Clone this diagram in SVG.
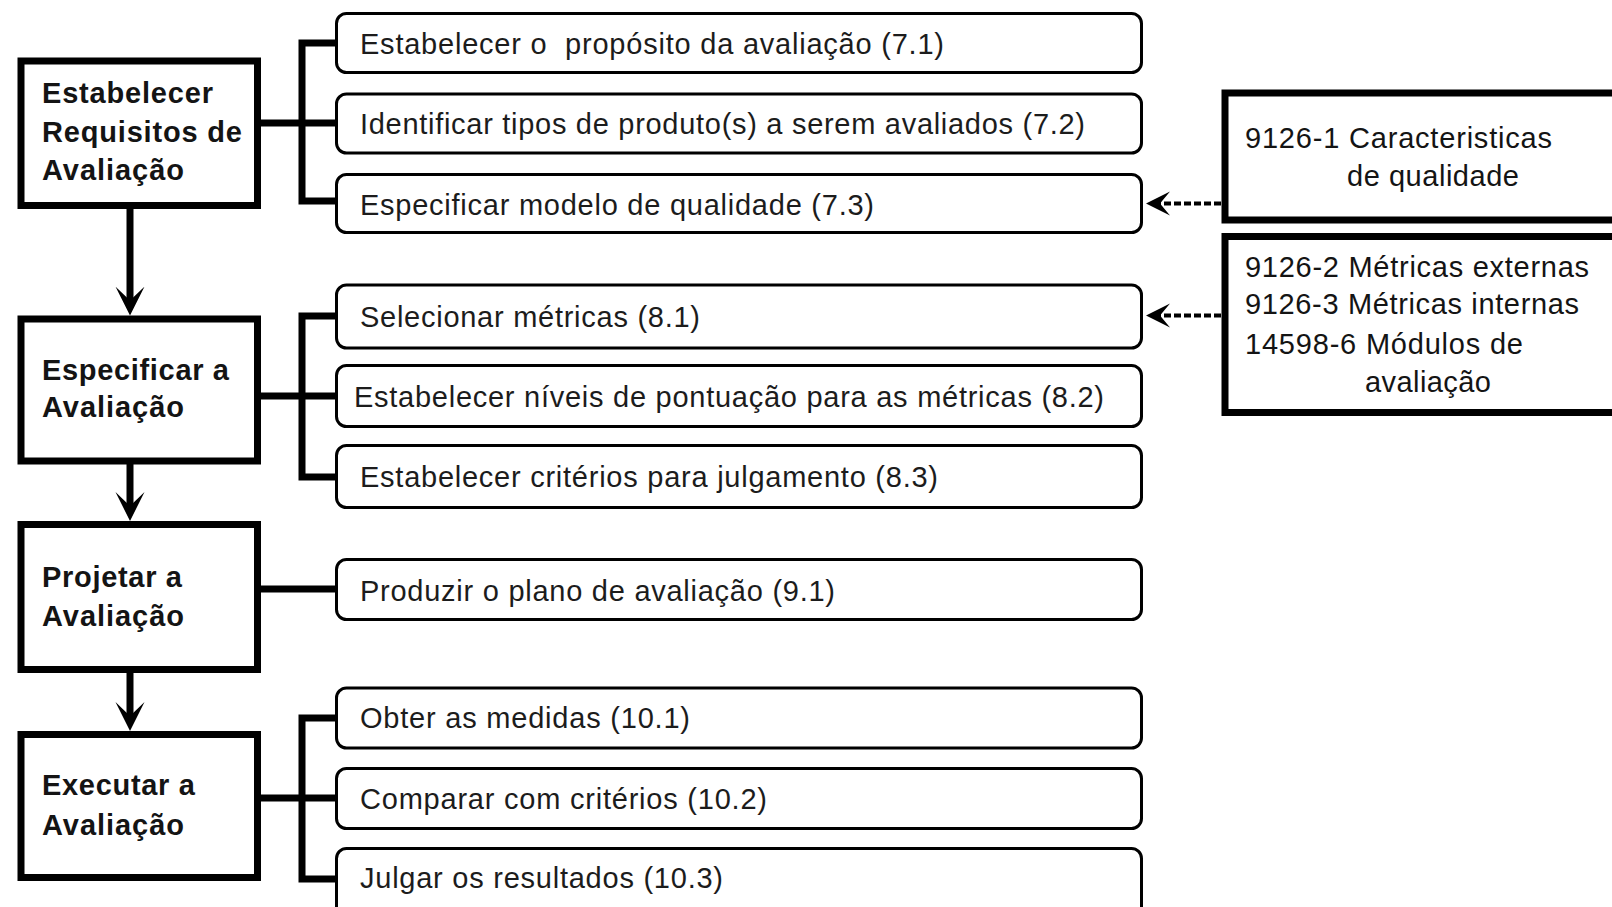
<svg xmlns="http://www.w3.org/2000/svg" width="1612" height="907" viewBox="0 0 1612 907">
<style>
text{font-family:"Liberation Sans",Arial,sans-serif;fill:#141414}
.step rect{fill:#fff;stroke:#000;stroke-width:7}
.step text{font-size:29px;font-weight:bold}
.task rect{fill:#fff;stroke:#000;stroke-width:3}
.task text{font-size:29px;fill:#1c1c1c}
.ref rect{fill:#fff;stroke:#000;stroke-width:7}
.ref text{font-size:29px}
.br{fill:none;stroke:#000;stroke-width:7;stroke-linejoin:miter}
.flow{stroke:#000;stroke-width:7;marker-end:url(#ah)}
.dash{stroke:#000;stroke-width:4;stroke-dasharray:7 3;marker-end:url(#dh)}
</style>
<defs>
<marker id="ah" markerUnits="userSpaceOnUse" viewBox="0 -15 30 30" markerWidth="30" markerHeight="30" refX="21" refY="0" orient="auto"><path d="M0,-14.5 L29,0 L0,14.5 L14,0 Z" fill="#000"/></marker>
<marker id="dh" markerUnits="userSpaceOnUse" viewBox="0 -13 26 26" markerWidth="26" markerHeight="26" refX="16" refY="0" orient="auto"><path d="M0,-12 L24,0 L0,12 L10,0 Z" fill="#000"/></marker>
</defs>
<rect width="1612" height="907" fill="#fff"/>

<g id="connectors">
<path class="br" d="M335,43 H302 V201 H335 M261,123 H335"/>
<path class="br" d="M335,316 H302 V477 H335 M261,396 H335"/>
<path class="br" d="M261,589 H335"/>
<path class="br" d="M335,718 H302 V879 H335 M261,798 H335"/>
<line class="flow" x1="130" y1="208" x2="130" y2="307.6"/>
<line class="flow" x1="130" y1="464" x2="130" y2="513"/>
<line class="flow" x1="130" y1="672" x2="130" y2="723"/>
<line class="dash" x1="1221" y1="203.5" x2="1154" y2="203.5"/>
<line class="dash" x1="1221" y1="315.6" x2="1154" y2="315.6"/>
</g>

<g id="step1" class="step"><rect x="21" y="61" width="236.5" height="144.5"/>
<text x="42" y="103" textLength="171">Estabelecer</text>
<text x="42" y="142" textLength="200">Requisitos de</text>
<text x="42" y="180" textLength="142">Avaliação</text></g>
<g id="step2" class="step"><rect x="21" y="319" width="236.5" height="142"/>
<text x="42" y="380" textLength="187">Especificar a</text>
<text x="42" y="417" textLength="142">Avaliação</text></g>
<g id="step3" class="step"><rect x="21" y="524.5" width="236.5" height="145"/>
<text x="42" y="587" textLength="140">Projetar a</text>
<text x="42" y="626" textLength="142">Avaliação</text></g>
<g id="step4" class="step"><rect x="21" y="734.5" width="236.5" height="143"/>
<text x="42" y="795" textLength="153">Executar a</text>
<text x="42" y="835" textLength="142">Avaliação</text></g>

<g id="t71" class="task"><rect x="336.5" y="13.5" width="805" height="59" rx="10"/><text x="360" y="54" textLength="584" xml:space="preserve">Estabelecer o  propósito da avaliação (7.1)</text></g>
<g id="t72" class="task"><rect x="336.5" y="94" width="805" height="59" rx="10"/><text x="360" y="134" textLength="725">Identificar tipos de produto(s) a serem avaliados (7.2)</text></g>
<g id="t73" class="task"><rect x="336.5" y="174.5" width="805" height="58" rx="10"/><text x="360" y="214.5" textLength="514">Especificar modelo de qualidade (7.3)</text></g>
<g id="t81" class="task"><rect x="336.5" y="285" width="805" height="63" rx="10"/><text x="360" y="326.5" textLength="340">Selecionar métricas (8.1)</text></g>
<g id="t82" class="task"><rect x="336.5" y="365.5" width="805" height="61" rx="10"/><text x="354" y="406.5" textLength="750">Estabelecer níveis de pontuação para as métricas (8.2)</text></g>
<g id="t83" class="task"><rect x="336.5" y="445.5" width="805" height="62" rx="10"/><text x="360" y="487" textLength="578">Estabelecer critérios para julgamento (8.3)</text></g>
<g id="t91" class="task"><rect x="336.5" y="559.5" width="805" height="60" rx="10"/><text x="360" y="600.5" textLength="475">Produzir o plano de avaliação (9.1)</text></g>
<g id="t101" class="task"><rect x="336.5" y="688" width="805" height="60" rx="10"/><text x="360" y="728" textLength="330">Obter as medidas (10.1)</text></g>
<g id="t102" class="task"><rect x="336.5" y="768.5" width="805" height="60" rx="10"/><text x="360" y="808.5" textLength="407">Comparar com critérios (10.2)</text></g>
<g id="t103" class="task"><rect x="336.5" y="848.5" width="805" height="70" rx="10"/><text x="360" y="888" textLength="363">Julgar os resultados (10.3)</text></g>

<g id="ref1" class="ref"><rect x="1225" y="93" width="420" height="127"/>
<text x="1245" y="148" textLength="307">9126-1 Caracteristicas</text>
<text x="1347" y="186" textLength="172">de qualidade</text></g>
<g id="ref2" class="ref"><rect x="1225" y="236.5" width="420" height="176"/>
<text x="1245" y="277" textLength="344">9126-2 Métricas externas</text>
<text x="1245" y="314" textLength="334">9126-3 Métricas internas</text>
<text x="1245" y="354" textLength="278">14598-6 Módulos de</text>
<text x="1365" y="392" textLength="126">avaliação</text></g>
</svg>
